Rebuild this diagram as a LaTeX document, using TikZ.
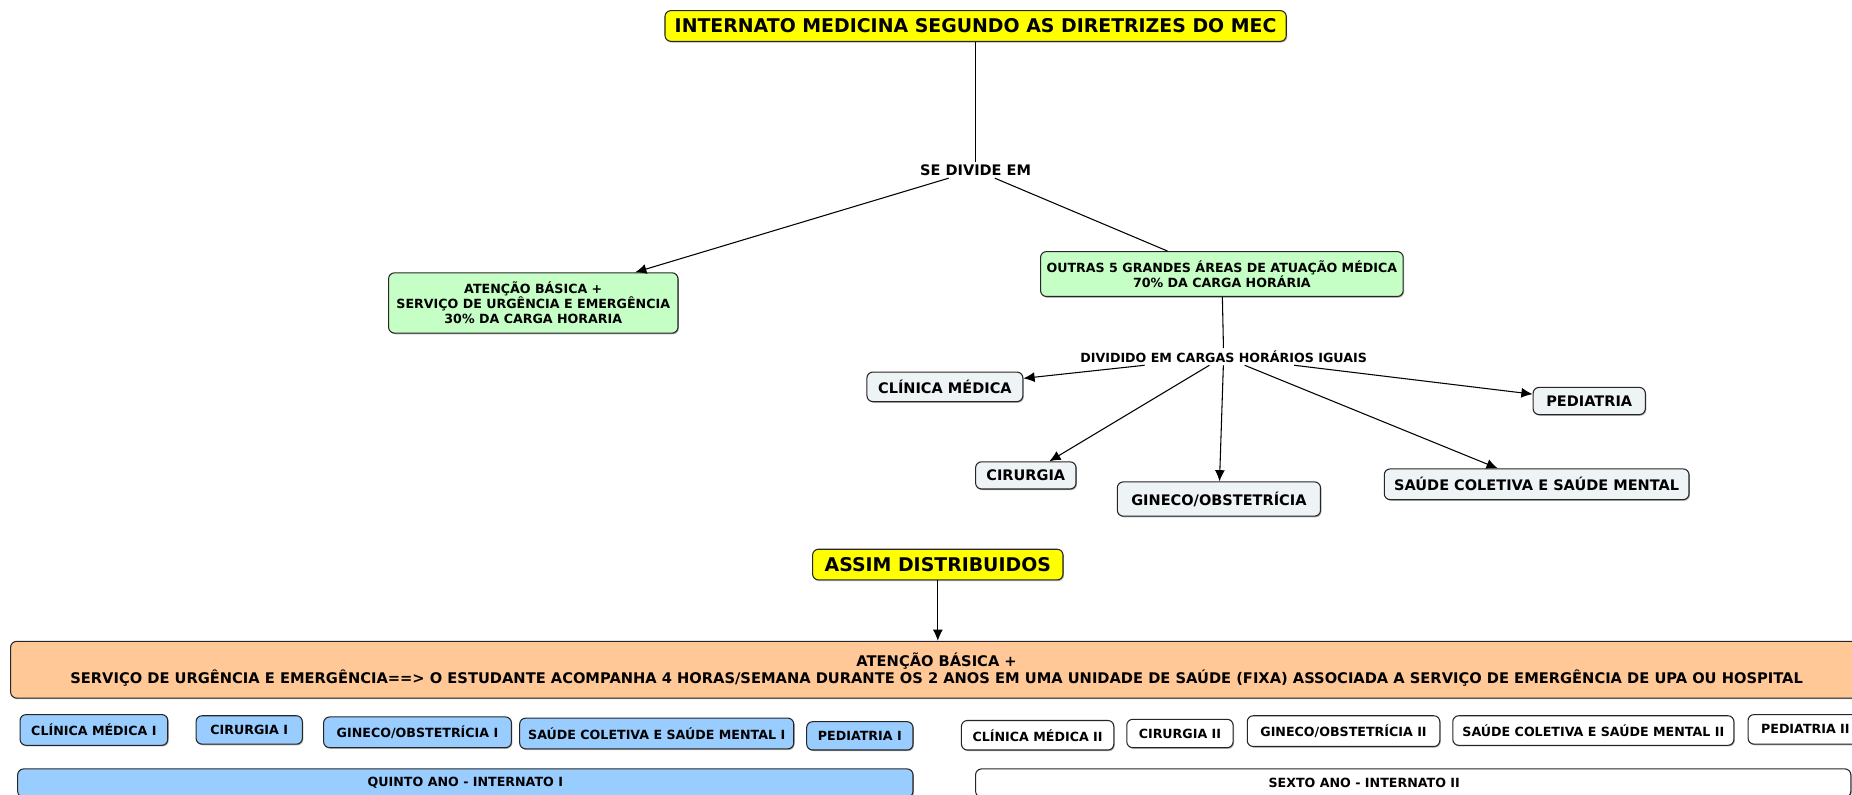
\documentclass[tikz,border=0pt]{standalone}
\usepackage{fontspec}
\setmainfont{DejaVu Sans}
\usepackage{xcolor}
\usepackage{tikz}
\usetikzlibrary{arrows.meta}
\usetikzlibrary{positioning}
\usetikzlibrary{shadows}
\definecolor{mecyellow}{RGB}{255,255,0}
\definecolor{areagreen}{RGB}{198,255,198}
\definecolor{areagray}{RGB}{238,243,246}
\definecolor{abpeach}{RGB}{255,200,150}
\definecolor{anoblue}{RGB}{153,204,255}
\tikzstyle{arrow} = [line width=0.9pt,-{Latex[length=9.5pt,width=8.5pt]}]
\tikzstyle{link} = [line width=0.9pt]
\tikzstyle{box} = [draw=black!85, line width=0.9pt, rounded corners=5pt, inner sep=0pt, align=center,
  drop shadow={shadow xshift=0.8pt, shadow yshift=-1pt, fill=black!45, opacity=0.7}]
\tikzstyle{huge} = [font=\bfseries\fontsize{16}{19}\selectfont]
\tikzstyle{mid} = [font=\bfseries\fontsize{12.3}{15}\selectfont]
\tikzstyle{small} = [font=\bfseries\fontsize{10.7}{12.6}\selectfont]

\begin{document}
\begin{tikzpicture}[x=1pt, y=-1pt]
  \useasboundingbox (0,0) rectangle (1568,673);
  \clip (0,0) rectangle (1568,673);
  % top part
  \node[box, huge, fill=mecyellow, minimum width=526, minimum height=26] (title) at (826,22) {INTERNATO MEDICINA SEGUNDO AS DIRETRIZES DO MEC};
  \node[mid, inner sep=2pt] (divide) at (826,144) {SE DIVIDE EM};
  \node[box, small, fill=areagreen, minimum width=245, minimum height=51] (atencao) at (451.5,256.5) {ATENÇÃO BÁSICA +\\SERVIÇO DE URGÊNCIA E EMERGÊNCIA\\30\% DA CARGA HORARIA};
  \node[box, small, fill=areagreen, minimum width=307, minimum height=38] (outras) at (1034.5,232) {OUTRAS 5 GRANDES ÁREAS DE ATUAÇÃO MÉDICA\\70\% DA CARGA HORÁRIA};
  \node[small, inner sep=2pt] (dividido) at (1036,302) {DIVIDIDO EM CARGAS HORÁRIOS IGUAIS};
  \node[box, mid, fill=areagray, minimum width=132, minimum height=25] (clinica) at (800,327.5) {CLÍNICA MÉDICA};
  \node[box, mid, fill=areagray, minimum width=85, minimum height=23] (cirurgia) at (868.5,402.5) {CIRURGIA};
  \node[box, mid, fill=areagray, minimum width=172, minimum height=29] (gineco) at (1032,422.5) {GINECO/OBSTETRÍCIA};
  \node[box, mid, fill=areagray, minimum width=258, minimum height=26] (saude) at (1301,410) {SAÚDE COLETIVA E SAÚDE MENTAL};
  \node[box, mid, fill=areagray, minimum width=95, minimum height=23] (pediatria) at (1345.5,339.5) {PEDIATRIA};
  \draw[link] (title) -- (divide);
  \draw[arrow] (divide) -- (atencao);
  \draw[link] (divide) -- (outras);
  \draw[link] (outras) -- (dividido);
  \draw[arrow] (dividido) -- (clinica);
  \draw[arrow] (dividido) -- (cirurgia);
  \draw[arrow] (dividido) -- (gineco);
  \draw[arrow] (dividido) -- (saude);
  \draw[arrow] (dividido) -- (pediatria);
  % bottom part
  \node[box, huge, fill=mecyellow, minimum width=212, minimum height=26] (assim) at (794,478) {ASSIM DISTRIBUIDOS};
  \node[box, font=\bfseries\fontsize{12.42}{15}\selectfont, fill=abpeach, minimum width=1568, minimum height=48] (basica) at (793,567) {ATENÇÃO BÁSICA +\\SERVIÇO DE URGÊNCIA E EMERGÊNCIA==> O ESTUDANTE ACOMPANHA 4 HORAS/SEMANA DURANTE OS 2 ANOS EM UMA UNIDADE DE SAÚDE (FIXA) ASSOCIADA A SERVIÇO DE EMERGÊNCIA DE UPA OU HOSPITAL};
  \draw[arrow] (assim) -- (assim |- basica.north);
  \node[box, small, fill=anoblue, minimum width=125, minimum height=26] (clinicaI) at (79.5,618) {CLÍNICA MÉDICA I};
  \node[box, small, fill=anoblue, minimum width=90, minimum height=24] (cirurgiaI) at (211,618) {CIRURGIA I};
  \node[box, small, fill=anoblue, minimum width=159, minimum height=26] (ginecoI) at (353.5,620) {GINECO/OBSTETRÍCIA I};
  \node[box, small, fill=anoblue, minimum width=232, minimum height=26] (saudeI) at (556,621) {SAÚDE COLETIVA E SAÚDE MENTAL I};
  \node[box, small, fill=anoblue, minimum width=90, minimum height=24] (pediatriaI) at (728,623) {PEDIATRIA I};
  \node[box, small, fill=white, minimum width=129, minimum height=25] (clinicaII) at (878.5,622.5) {CLÍNICA MÉDICA II};
  \node[box, small, fill=white, minimum width=90, minimum height=24] (cirurgiaII) at (999,621) {CIRURGIA II};
  \node[box, small, fill=white, minimum width=163, minimum height=26] (ginecoII) at (1137.5,619) {GINECO/OBSTETRÍCIA II};
  \node[box, small, fill=white, minimum width=238, minimum height=25] (saudeII) at (1349,618.5) {SAÚDE COLETIVA E SAÚDE MENTAL II};
  \node[box, small, fill=white, minimum width=97, minimum height=25] (pediatriaII) at (1528.5,617.5) {PEDIATRIA II};
  \node[box, small, fill=anoblue, minimum width=758, minimum height=24] (quinto) at (394,663) {QUINTO ANO - INTERNATO I};
  \node[box, fill=white, minimum width=741, minimum height=24] (sexto) at (1196.5,663) {};
  \node[small] (sextotxt) at (1155,663) {SEXTO ANO - INTERNATO II};
\end{tikzpicture}
\end{document}
